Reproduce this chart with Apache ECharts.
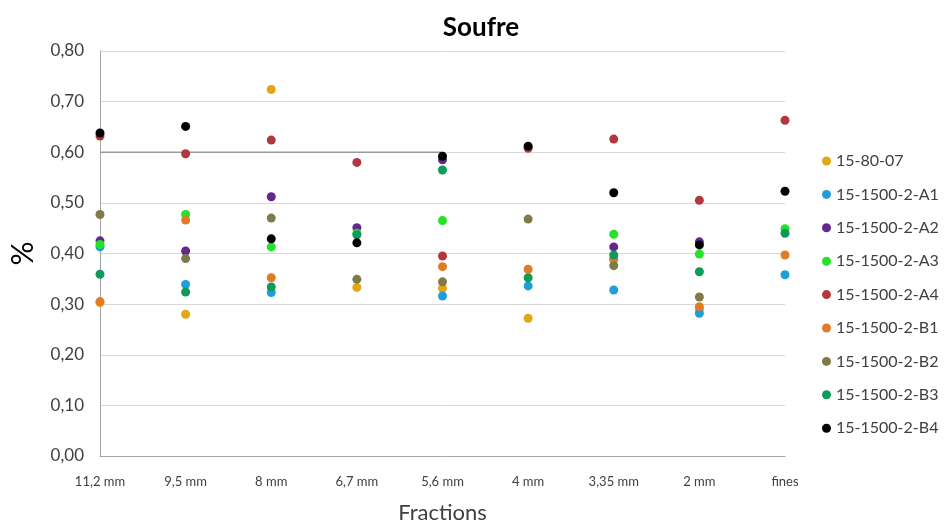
<!DOCTYPE html>
<html>
<head>
<meta charset="utf-8">
<script src="https://cdn.jsdelivr.net/npm/echarts@6/dist/echarts.min.js"></script>
<style>html,body{margin:0;padding:0;background:#fff}#c{width:946px;height:524px}</style>
</head>
<body>
<div id="c"></div>
<script>
var categories = ['11,2 mm','9,5 mm','8 mm','6,7 mm','5,6 mm','4 mm','3,35 mm','2 mm','fines'];
var yTicks = [0, 0.1, 0.2, 0.3, 0.4, 0.5, 0.6, 0.7, 0.8];
var seriesNames = ['15-80-07','15-1500-2-A1','15-1500-2-A2','15-1500-2-A3','15-1500-2-A4','15-1500-2-B1','15-1500-2-B2','15-1500-2-B3','15-1500-2-B4'];
var s_15_80_07 = [0.303, 0.280, 0.724, 0.333, 0.331, 0.272, 0.390, 0.290, null];
var s_A1 = [0.413, 0.339, 0.323, null, 0.316, 0.336, 0.328, 0.282, 0.358];
var s_A2 = [0.425, 0.405, 0.512, 0.451, 0.585, null, 0.413, 0.423, null];
var s_A3 = [0.418, 0.477, 0.413, 0.440, 0.465, null, 0.438, 0.399, 0.449];
var s_A4 = [0.632, 0.597, 0.624, 0.580, 0.395, 0.608, 0.626, 0.505, 0.663];
var s_B1 = [0.305, 0.466, 0.352, null, 0.374, 0.369, 0.388, 0.295, 0.397];
var s_B2 = [0.477, 0.390, 0.470, 0.349, 0.344, 0.468, 0.376, 0.314, null];
var s_B3 = [0.359, 0.324, 0.334, 0.437, 0.565, 0.352, 0.397, 0.364, 0.440];
var s_B4 = [0.638, 0.651, 0.429, 0.421, 0.592, 0.612, 0.520, 0.417, 0.523];
var refLine = [0.6, 0.6, 0.6, 0.6, 0.6, null, null, null, null];

var seriesData = [s_15_80_07, s_A1, s_A2, s_A3, s_A4, s_B1, s_B2, s_B3, s_B4];
var colors = ['#e3a614','#1f9fd6','#62288f','#22e325','#b2383e','#e27b25','#807a48','#0f995a','#000000'];
var FONT = 'Lato, "Open Sans", sans-serif';

var series = [{
  name: 'ref', type: 'line', data: refLine, symbol: 'none', silent: true,
  lineStyle: {color: '#9a9a9a', width: 1.5}, z: 1
}];
seriesNames.forEach(function(n, i){
  series.push({
    name: n, type: 'scatter', data: seriesData[i], symbolSize: 9,
    itemStyle: {color: colors[i], opacity: 1}, z: 3
  });
});

var chart = echarts.init(document.getElementById('c'), null, {renderer: 'canvas'});
chart.setOption({
  animation: false,
  backgroundColor: '#fff',
  color: colors,
  title: {
    text: 'Soufre', left: 476, top: 10, textAlign: 'center',
    textStyle: {fontFamily: FONT, fontSize: 26, fontWeight: 'bold', color: '#000'}
  },
  legend: {
    data: seriesNames, orient: 'vertical', left: 817, top: 146,
    icon: 'circle', itemWidth: 9, itemHeight: 9, itemGap: 13.4,
    textStyle: {fontFamily: FONT, fontSize: 16, color: '#404040', lineHeight: 20}
  },
  grid: {left: 100, right: 161, top: 51, bottom: 68, containLabel: false, outerBoundsMode: 'none'},
  xAxis: {
    type: 'category', data: categories, boundaryGap: false,
    name: 'Fractions', nameLocation: 'middle', nameGap: 46,
    nameTextStyle: {fontFamily: FONT, fontSize: 22, color: '#404040'},
    axisLine: {lineStyle: {color: '#a6a6a6', width: 1}},
    axisTick: {show: false},
    axisLabel: {fontFamily: FONT, fontSize: 13, color: '#404040', margin: 19, interval: 0},
    splitLine: {show: false}
  },
  yAxis: {
    type: 'value', min: yTicks[0], max: yTicks[yTicks.length-1], interval: 0.1,
    name: '%', nameLocation: 'middle', nameGap: 62, nameRotate: 90,
    nameTextStyle: {fontFamily: FONT, fontSize: 30, color: '#000'},
    axisLine: {show: true, lineStyle: {color: '#a6a6a6', width: 1}},
    axisTick: {show: false},
    axisLabel: {fontFamily: FONT, fontSize: 17, color: '#404040', margin: 16,
      formatter: function(v){ return v.toFixed(2).replace('.', ','); }},
    splitLine: {lineStyle: {color: '#d9d9d9', width: 1}}
  },
  series: series
});
</script>
</body>
</html>
